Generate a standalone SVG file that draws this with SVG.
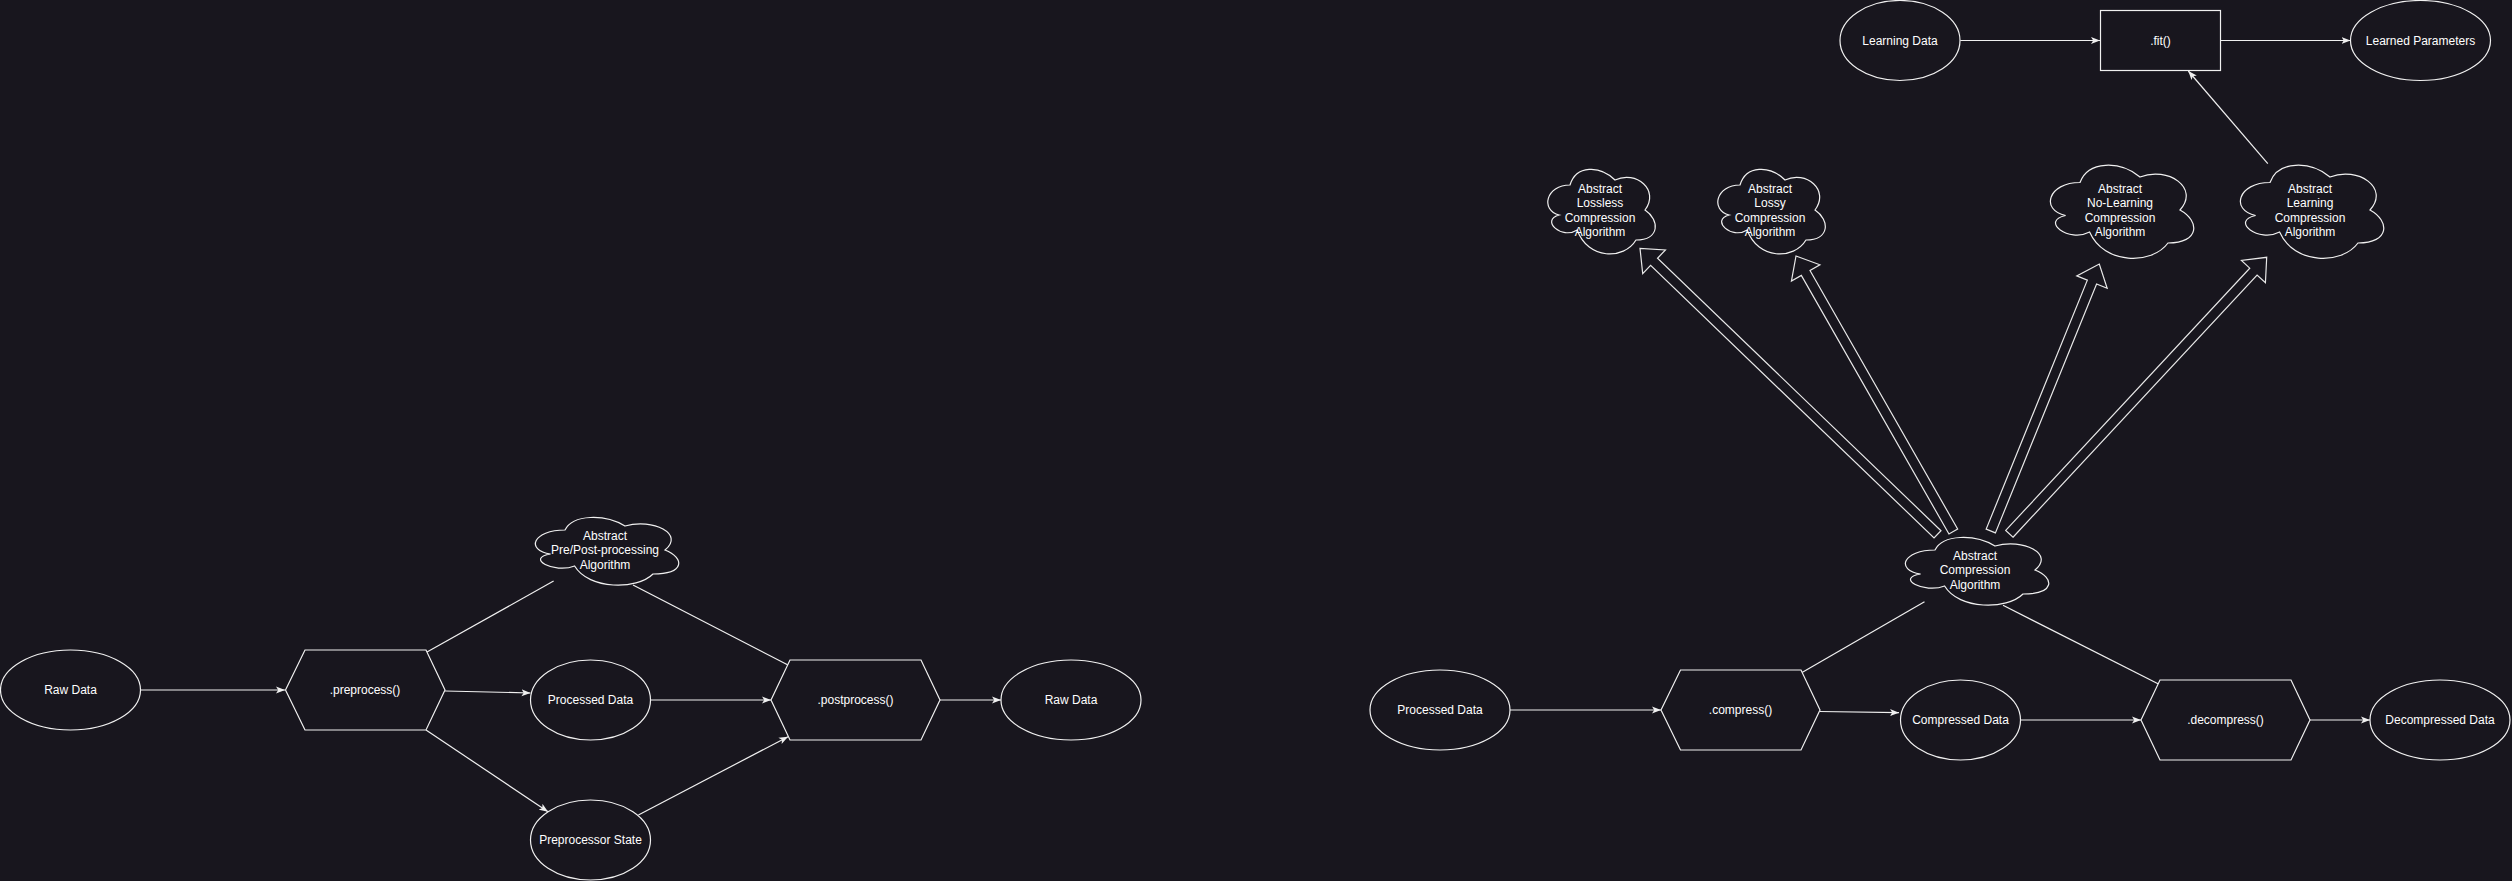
<svg xmlns="http://www.w3.org/2000/svg" width="2512" height="881" viewBox="0 0 2512 881">
<style>
.shape{fill:#18161e;stroke:#f0f0f0;stroke-width:1.2}
.flex{fill:none;stroke:#e8e8e8;stroke-width:1.2;stroke-linejoin:miter}
.edge{fill:none;stroke:#f0f0f0;stroke-width:1.2}
.lbl{font-family:"Liberation Sans",Arial,Helvetica,sans-serif;font-size:12px;fill:#ffffff;text-anchor:middle}
</style>
<defs>
<marker id="arr" markerUnits="userSpaceOnUse" viewBox="0 0 9 8" refX="9" refY="4" markerWidth="9" markerHeight="8" orient="auto">
<path d="M0,0.5 L9,4 L0,7.5 L2.2,4 Z" fill="#f0f0f0"/>
</marker>
</defs>
<rect x="0" y="0" width="2512" height="881" fill="#18161e"/>

<g id="connectors">
<line class="edge" x1="140.5" y1="690" x2="285" y2="690" marker-end="url(#arr)"/>
<line class="edge" x1="445" y1="691" x2="530.5" y2="693" marker-end="url(#arr)"/>
<line class="edge" x1="426" y1="730" x2="548" y2="811.7" marker-end="url(#arr)"/>
<line class="edge" x1="427" y1="652" x2="553.6" y2="581"/>
<line class="edge" x1="633" y1="585" x2="788" y2="665"/>
<line class="edge" x1="650.5" y1="700" x2="771" y2="700" marker-end="url(#arr)"/>
<line class="edge" x1="638.4" y1="815" x2="788" y2="736.7" marker-end="url(#arr)"/>
<line class="edge" x1="940" y1="700" x2="1001" y2="700" marker-end="url(#arr)"/>

<line class="edge" x1="1510" y1="710" x2="1661" y2="710" marker-end="url(#arr)"/>
<line class="edge" x1="1820" y1="711.5" x2="1899" y2="712.7" marker-end="url(#arr)"/>
<line class="edge" x1="1802" y1="672.5" x2="1924.5" y2="601.7"/>
<line class="edge" x1="2003" y1="605.3" x2="2159" y2="684.3"/>
<line class="edge" x1="2020.5" y1="720" x2="2141" y2="720" marker-end="url(#arr)"/>
<line class="edge" x1="2310" y1="720" x2="2370" y2="720" marker-end="url(#arr)"/>
<line class="edge" x1="1960.3" y1="40.5" x2="2100" y2="40.5" marker-end="url(#arr)"/>
<line class="edge" x1="2220.5" y1="40.5" x2="2350.5" y2="40.5" marker-end="url(#arr)"/>
<line class="edge" x1="2267.8" y1="163.7" x2="2188.3" y2="71" marker-end="url(#arr)"/>

<polygon class="flex" points="1940.97,530.70 1657.53,258.21 1665.43,249.99 1640,248.3 1642.70,273.63 1650.60,265.42 1934.04,537.91"/>
<polygon class="flex" points="1957.64,529.02 1810.01,270.46 1819.91,264.81 1796,256 1791.43,281.07 1801.33,275.42 1948.96,533.98"/>
<polygon class="flex" points="1995.43,532.88 2096.59,283.94 2107.15,288.24 2099.3,264 2076.77,275.89 2087.33,280.18 1986.17,529.12"/>
<polygon class="flex" points="2013.01,537.26 2257.08,274.98 2265.43,282.74 2266.7,257.3 2241.42,260.40 2249.76,268.16 2005.69,530.44"/>
</g>

<g id="raw-data-1">
<ellipse class="shape" cx="70.5" cy="690" rx="70" ry="40"/>
<text class="lbl" x="70.5" y="694.3">Raw Data</text>
</g>
<g id="preprocess">
<polygon class="shape" points="285.5,690 305,650 426,650 445,690 426,730 305,730"/>
<text class="lbl" x="365" y="694.3">.preprocess()</text>
</g>
<g id="processed-data-1">
<ellipse class="shape" cx="590.5" cy="700" rx="60" ry="40"/>
<text class="lbl" x="590.5" y="704.3">Processed Data</text>
</g>
<g id="preprocessor-state">
<ellipse class="shape" cx="590.5" cy="840" rx="60" ry="40"/>
<text class="lbl" x="590.5" y="844.3">Preprocessor State</text>
</g>
<g id="prepost-cloud">
<path class="shape" transform="translate(525,510)" d="M40,20 C8,20 0,40 25.6,44 C0,48 28.8,64 49.6,56 C64,80 112,80 128,64 C160,64 160,48 140,40 C160,24 128,8 100,16 C80,4 48,4 40,20 Z"/>
<text class="lbl" x="605"><tspan x="605" y="539.9">Abstract</tspan><tspan x="605" y="554.3">Pre/Post-processing</tspan><tspan x="605" y="568.7">Algorithm</tspan></text>
</g>
<g id="postprocess">
<polygon class="shape" points="771,700 790,660 921,660 940,700 921,740 790,740"/>
<text class="lbl" x="855.5" y="704.3">.postprocess()</text>
</g>
<g id="raw-data-2">
<ellipse class="shape" cx="1071" cy="700" rx="70" ry="40"/>
<text class="lbl" x="1071" y="704.3">Raw Data</text>
</g>

<g id="processed-data-2">
<ellipse class="shape" cx="1440" cy="710" rx="70" ry="40"/>
<text class="lbl" x="1440" y="714.3">Processed Data</text>
</g>
<g id="compress">
<polygon class="shape" points="1661,710 1680.5,670 1801,670 1820,710 1801,750 1680.5,750"/>
<text class="lbl" x="1740.5" y="714.3">.compress()</text>
</g>
<g id="compressed-data">
<ellipse class="shape" cx="1960.5" cy="720" rx="60" ry="40"/>
<text class="lbl" x="1960.5" y="724.3">Compressed Data</text>
</g>
<g id="decompress">
<polygon class="shape" points="2141,720 2160,680 2291,680 2310,720 2291,760 2160,760"/>
<text class="lbl" x="2225.5" y="724.3">.decompress()</text>
</g>
<g id="decompressed-data">
<ellipse class="shape" cx="2440" cy="720" rx="70" ry="40"/>
<text class="lbl" x="2440" y="724.3">Decompressed Data</text>
</g>
<g id="compression-cloud">
<path class="shape" transform="translate(1895,530)" d="M40,20 C8,20 0,40 25.6,44 C0,48 28.8,64 49.6,56 C64,80 112,80 128,64 C160,64 160,48 140,40 C160,24 128,8 100,16 C80,4 48,4 40,20 Z"/>
<text class="lbl" x="1975"><tspan x="1975" y="559.9">Abstract</tspan><tspan x="1975" y="574.3">Compression</tspan><tspan x="1975" y="588.7">Algorithm</tspan></text>
</g>
<g id="lossless-cloud">
<path class="shape" transform="translate(1540,160)" d="M30,25 C6,25 0,50 19.2,55 C0,60 21.6,80 37.2,70 C48,100 84,100 96,80 C120,80 120,60 105,50 C120,30 96,10 75,20 C60,5 36,5 30,25 Z"/>
<text class="lbl" x="1600"><tspan x="1600" y="192.7">Abstract</tspan><tspan x="1600" y="207.1">Lossless</tspan><tspan x="1600" y="221.5">Compression</tspan><tspan x="1600" y="235.9">Algorithm</tspan></text>
</g>
<g id="lossy-cloud">
<path class="shape" transform="translate(1710,160)" d="M30,25 C6,25 0,50 19.2,55 C0,60 21.6,80 37.2,70 C48,100 84,100 96,80 C120,80 120,60 105,50 C120,30 96,10 75,20 C60,5 36,5 30,25 Z"/>
<text class="lbl" x="1770"><tspan x="1770" y="192.7">Abstract</tspan><tspan x="1770" y="207.1">Lossy</tspan><tspan x="1770" y="221.5">Compression</tspan><tspan x="1770" y="235.9">Algorithm</tspan></text>
</g>
<g id="nolearning-cloud">
<path class="shape" transform="translate(2040,155)" d="M40,27.5 C8,27.5 0,55 25.6,60.5 C0,66 28.8,88 49.6,77 C64,110 112,110 128,88 C160,88 160,66 140,55 C160,33 128,11 100,22 C80,5.5 48,5.5 40,27.5 Z"/>
<text class="lbl" x="2120"><tspan x="2120" y="192.7">Abstract</tspan><tspan x="2120" y="207.1">No-Learning</tspan><tspan x="2120" y="221.5">Compression</tspan><tspan x="2120" y="235.9">Algorithm</tspan></text>
</g>
<g id="learning-cloud">
<path class="shape" transform="translate(2230,155)" d="M40,27.5 C8,27.5 0,55 25.6,60.5 C0,66 28.8,88 49.6,77 C64,110 112,110 128,88 C160,88 160,66 140,55 C160,33 128,11 100,22 C80,5.5 48,5.5 40,27.5 Z"/>
<text class="lbl" x="2310"><tspan x="2310" y="192.7">Abstract</tspan><tspan x="2310" y="207.1">Learning</tspan><tspan x="2310" y="221.5">Compression</tspan><tspan x="2310" y="235.9">Algorithm</tspan></text>
</g>
<g id="learning-data">
<ellipse class="shape" cx="1900" cy="40.5" rx="60" ry="40"/>
<text class="lbl" x="1900" y="44.8">Learning Data</text>
</g>
<g id="fit">
<rect class="shape" x="2100.5" y="10.5" width="120" height="60"/>
<text class="lbl" x="2160.5" y="44.8">.fit()</text>
</g>
<g id="learned-parameters">
<ellipse class="shape" cx="2420.5" cy="40.5" rx="70" ry="40"/>
<text class="lbl" x="2420.5" y="44.8">Learned Parameters</text>
</g>
</svg>
